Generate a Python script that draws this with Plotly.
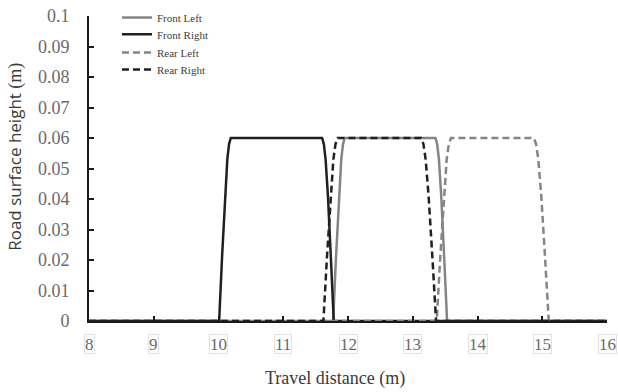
import plotly.graph_objects as go

# Travel distance (m) / road surface height (m) for each wheel
front_left_x = [8, 11.77, 11.815, 11.86, 11.896, 11.923, 11.95, 13.35, 13.377, 13.404, 13.44, 13.485, 13.53, 16]
front_left_y = [0, 0, 0.021, 0.041, 0.053, 0.058, 0.06, 0.06, 0.058, 0.053, 0.041, 0.021, 0, 0]

front_right_x = [8, 10.01, 10.055, 10.10, 10.136, 10.163, 10.19, 11.60, 11.627, 11.654, 11.69, 11.735, 11.78, 16]
front_right_y = [0, 0, 0.021, 0.041, 0.053, 0.058, 0.06, 0.06, 0.058, 0.053, 0.041, 0.021, 0, 0]

rear_left_x = [8, 13.37, 13.425, 13.48, 13.524, 13.557, 13.59, 14.87, 14.905, 14.939, 14.985, 15.043, 15.10, 16]
rear_left_y = [0, 0, 0.021, 0.041, 0.053, 0.058, 0.06, 0.06, 0.058, 0.053, 0.041, 0.021, 0, 0]

rear_right_x = [8, 11.62, 11.675, 11.73, 11.774, 11.807, 11.84, 13.13, 13.165, 13.199, 13.245, 13.303, 13.36, 16]
rear_right_y = [0, 0, 0.021, 0.041, 0.053, 0.058, 0.06, 0.06, 0.058, 0.053, 0.041, 0.021, 0, 0]

x_ticks = [8, 9, 10, 11, 12, 13, 14, 15, 16]
x_tick_labels = ["8", "9", "10", "11", "12", "13", "14", "15", "16"]
y_ticks = [0, 0.01, 0.02, 0.03, 0.04, 0.05, 0.06, 0.07, 0.08, 0.09, 0.1]
y_tick_labels = ["0", "0.01", "0.02", "0.03", "0.04", "0.05", "0.06", "0.07", "0.08", "0.09", "0.1"]

GRAY = "#858585"
BLACK = "#202020"
LABEL = "#6a6a6a"
SERIF = "Liberation Serif"

fig = go.Figure()
series = [
    ("Front Left", front_left_x, front_left_y, GRAY, "solid", "legend", 0.995),
    ("Front Right", front_right_x, front_right_y, BLACK, "solid", "legend2", 0.940),
    ("Rear Left", rear_left_x, rear_left_y, GRAY, "7px,4px", "legend3", 0.880),
    ("Rear Right", rear_right_x, rear_right_y, BLACK, "7px,4px", "legend4", 0.825),
]
legends = {}
for name, xs, ys, col, dash, leg, ly in series:
    fig.add_trace(go.Scatter(
        x=xs, y=ys, name=name, mode="lines", legend=leg,
        line=dict(color=col, width=2.5, dash=dash),
    ))
    legends[leg] = dict(
        x=0.054, y=ly, xanchor="left", yanchor="middle",
        font=dict(family=SERIF, size=11, color="#404040"),
        bgcolor="rgba(0,0,0,0)", itemwidth=30,
    )

# x tick labels drawn as boxed text at the axis tick values
for v, t in zip(x_ticks, x_tick_labels):
    fig.add_annotation(
        x=v, xref="x", y=0, yref="paper", yanchor="top", yshift=-13,
        text=t, showarrow=False, height=18,
        font=dict(family=SERIF, size=17, color=LABEL),
        bordercolor="#e2e2e2", borderwidth=1, borderpad=0,
    )

fig.add_annotation(
    x=0.474, xref="paper", y=-0.187, yref="paper", yanchor="middle",
    text="Travel distance (m)", showarrow=False,
    font=dict(family=SERIF, size=18, color="#3a3a3a"),
)
fig.add_annotation(
    x=-0.143, xref="paper", y=0.538, yref="paper",
    xanchor="center", yanchor="middle", textangle=-90,
    text="Road surface height <span style='font-family:Liberation Serif;font-size:18px'>(m)</span>",
    showarrow=False,
    font=dict(family="Open Sans", size=17, color="#3a3a3a"),
)

fig.update_layout(
    width=618, height=392,
    margin=dict(l=89, r=11, t=16, b=71, autoexpand=False),
    paper_bgcolor="white", plot_bgcolor="white",
    showlegend=True,
    xaxis=dict(
        range=[8, 16], tickvals=x_ticks, showticklabels=False,
        showgrid=False, zeroline=False,
        showline=True, linecolor="#1a1a1a", linewidth=2,
        ticks="inside", ticklen=5, tickcolor="#1a1a1a", tickwidth=1.5,
    ),
    yaxis=dict(
        range=[0, 0.1], tickvals=y_ticks, ticktext=y_tick_labels,
        showgrid=False, zeroline=False,
        showline=True, linecolor="#1a1a1a", linewidth=2,
        ticks="inside", ticklen=5, tickcolor="#1a1a1a", tickwidth=1.5,
        ticklabelstandoff=14,
        tickfont=dict(family=SERIF, size=18, color=LABEL),
    ),
    **legends,
)

fig.write_html("out.html", config={"displayModeBar": False},
               post_script="document.body.style.margin='0';")
